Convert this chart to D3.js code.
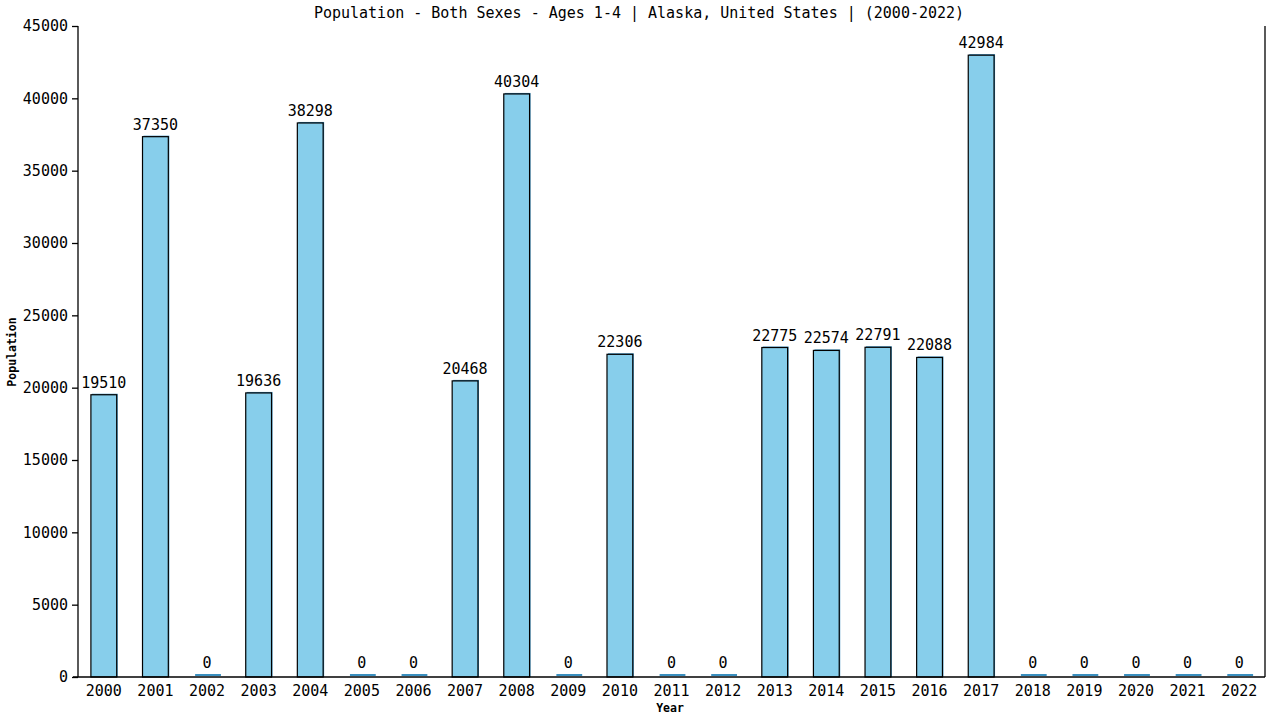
<!DOCTYPE html>
<html><head><meta charset="utf-8">
<script src="https://cdn.jsdelivr.net/npm/d3@7"></script>
<style>body{margin:0;background:#fff}svg{display:block}text{font-family:"DejaVu Sans Mono",monospace}</style>
</head><body><svg id="c" width="1280" height="720"></svg>
<script>
const years = ["2000","2001","2002","2003","2004","2005","2006","2007","2008","2009","2010","2011","2012","2013","2014","2015","2016","2017","2018","2019","2020","2021","2022"];
const values = [19510,37350,0,19636,38298,0,0,20468,40304,0,22306,0,0,22775,22574,22791,22088,42984,0,0,0,0,0];
const yTicks = [0,5000,10000,15000,20000,25000,30000,35000,40000,45000];
const title = "Population - Both Sexes - Ages 1-4 | Alaska, United States |  (2000-2022)";

const svg = d3.select("#c");
const L=78, R=1265, T=26, B=677;
const x = d3.scaleBand().domain(years).range([L,R]).paddingInner(0.5).paddingOuter(0.25);
const y = d3.scaleLinear().domain([0,45000]).range([B,T]);

svg.append("text").attr("x",639).attr("y",18).attr("text-anchor","middle").attr("font-size",15).text(title);

const g = svg.append("g");
g.selectAll("rect.sh").data(values).join("rect").attr("class","sh")
  .attr("x",(d,i)=>x(years[i])+1).attr("y",d=>d>0?y(d)-1:B-3)
  .attr("width",x.bandwidth()).attr("height",d=>d>0?B-y(d)+1:2)
  .attr("fill","#3a8fbf");
g.selectAll("rect.bar").data(values).join("rect").attr("class","bar")
  .attr("x",(d,i)=>x(years[i])).attr("y",d=>y(d))
  .attr("width",x.bandwidth()).attr("height",d=>B-y(d))
  .attr("fill","#87ceeb").attr("stroke",d=>d>0?"#000":"none").attr("stroke-width",1.2);

g.selectAll("text.val").data(values).join("text").attr("class","val")
  .attr("x",(d,i)=>x(years[i])+x.bandwidth()/2).attr("y",d=>y(d)-(d>0?7:9))
  .attr("text-anchor","middle").attr("font-size",15).text(d=>d);

const ya = svg.append("g").attr("transform",`translate(${L},0)`)
  .call(d3.axisLeft(y).tickValues(yTicks).tickSize(6).tickSizeOuter(0).tickFormat(d3.format("d")));
ya.selectAll("text").attr("font-size",15).attr("font-family","DejaVu Sans Mono").attr("fill","#000").attr("dx",-1);
ya.selectAll("line,path").attr("stroke","#000").attr("stroke-width",1.3);
ya.select("path").attr("d",`M0,${B}V${T}`);

const xa = svg.append("g").attr("transform",`translate(0,${B})`)
  .call(d3.axisBottom(x).tickSize(0).tickSizeOuter(0));
xa.selectAll("text").attr("font-size",15).attr("font-family","DejaVu Sans Mono").attr("fill","#000").attr("dy","1.07em");
xa.select("path").attr("d",`M${L-5},0H${R}`).attr("stroke","#000").attr("stroke-width",1.3);

svg.append("line").attr("x1",R).attr("x2",R).attr("y1",T).attr("y2",B).attr("stroke","#000").attr("stroke-width",1.3);

svg.append("text").attr("x",670).attr("y",712).attr("text-anchor","middle").attr("font-size",11.5).attr("font-weight","bold").text("Year");
svg.append("text").attr("transform","translate(16,352) rotate(-90)").attr("text-anchor","middle").attr("font-size",11.5).attr("font-weight","bold").text("Population");
</script></body></html>
